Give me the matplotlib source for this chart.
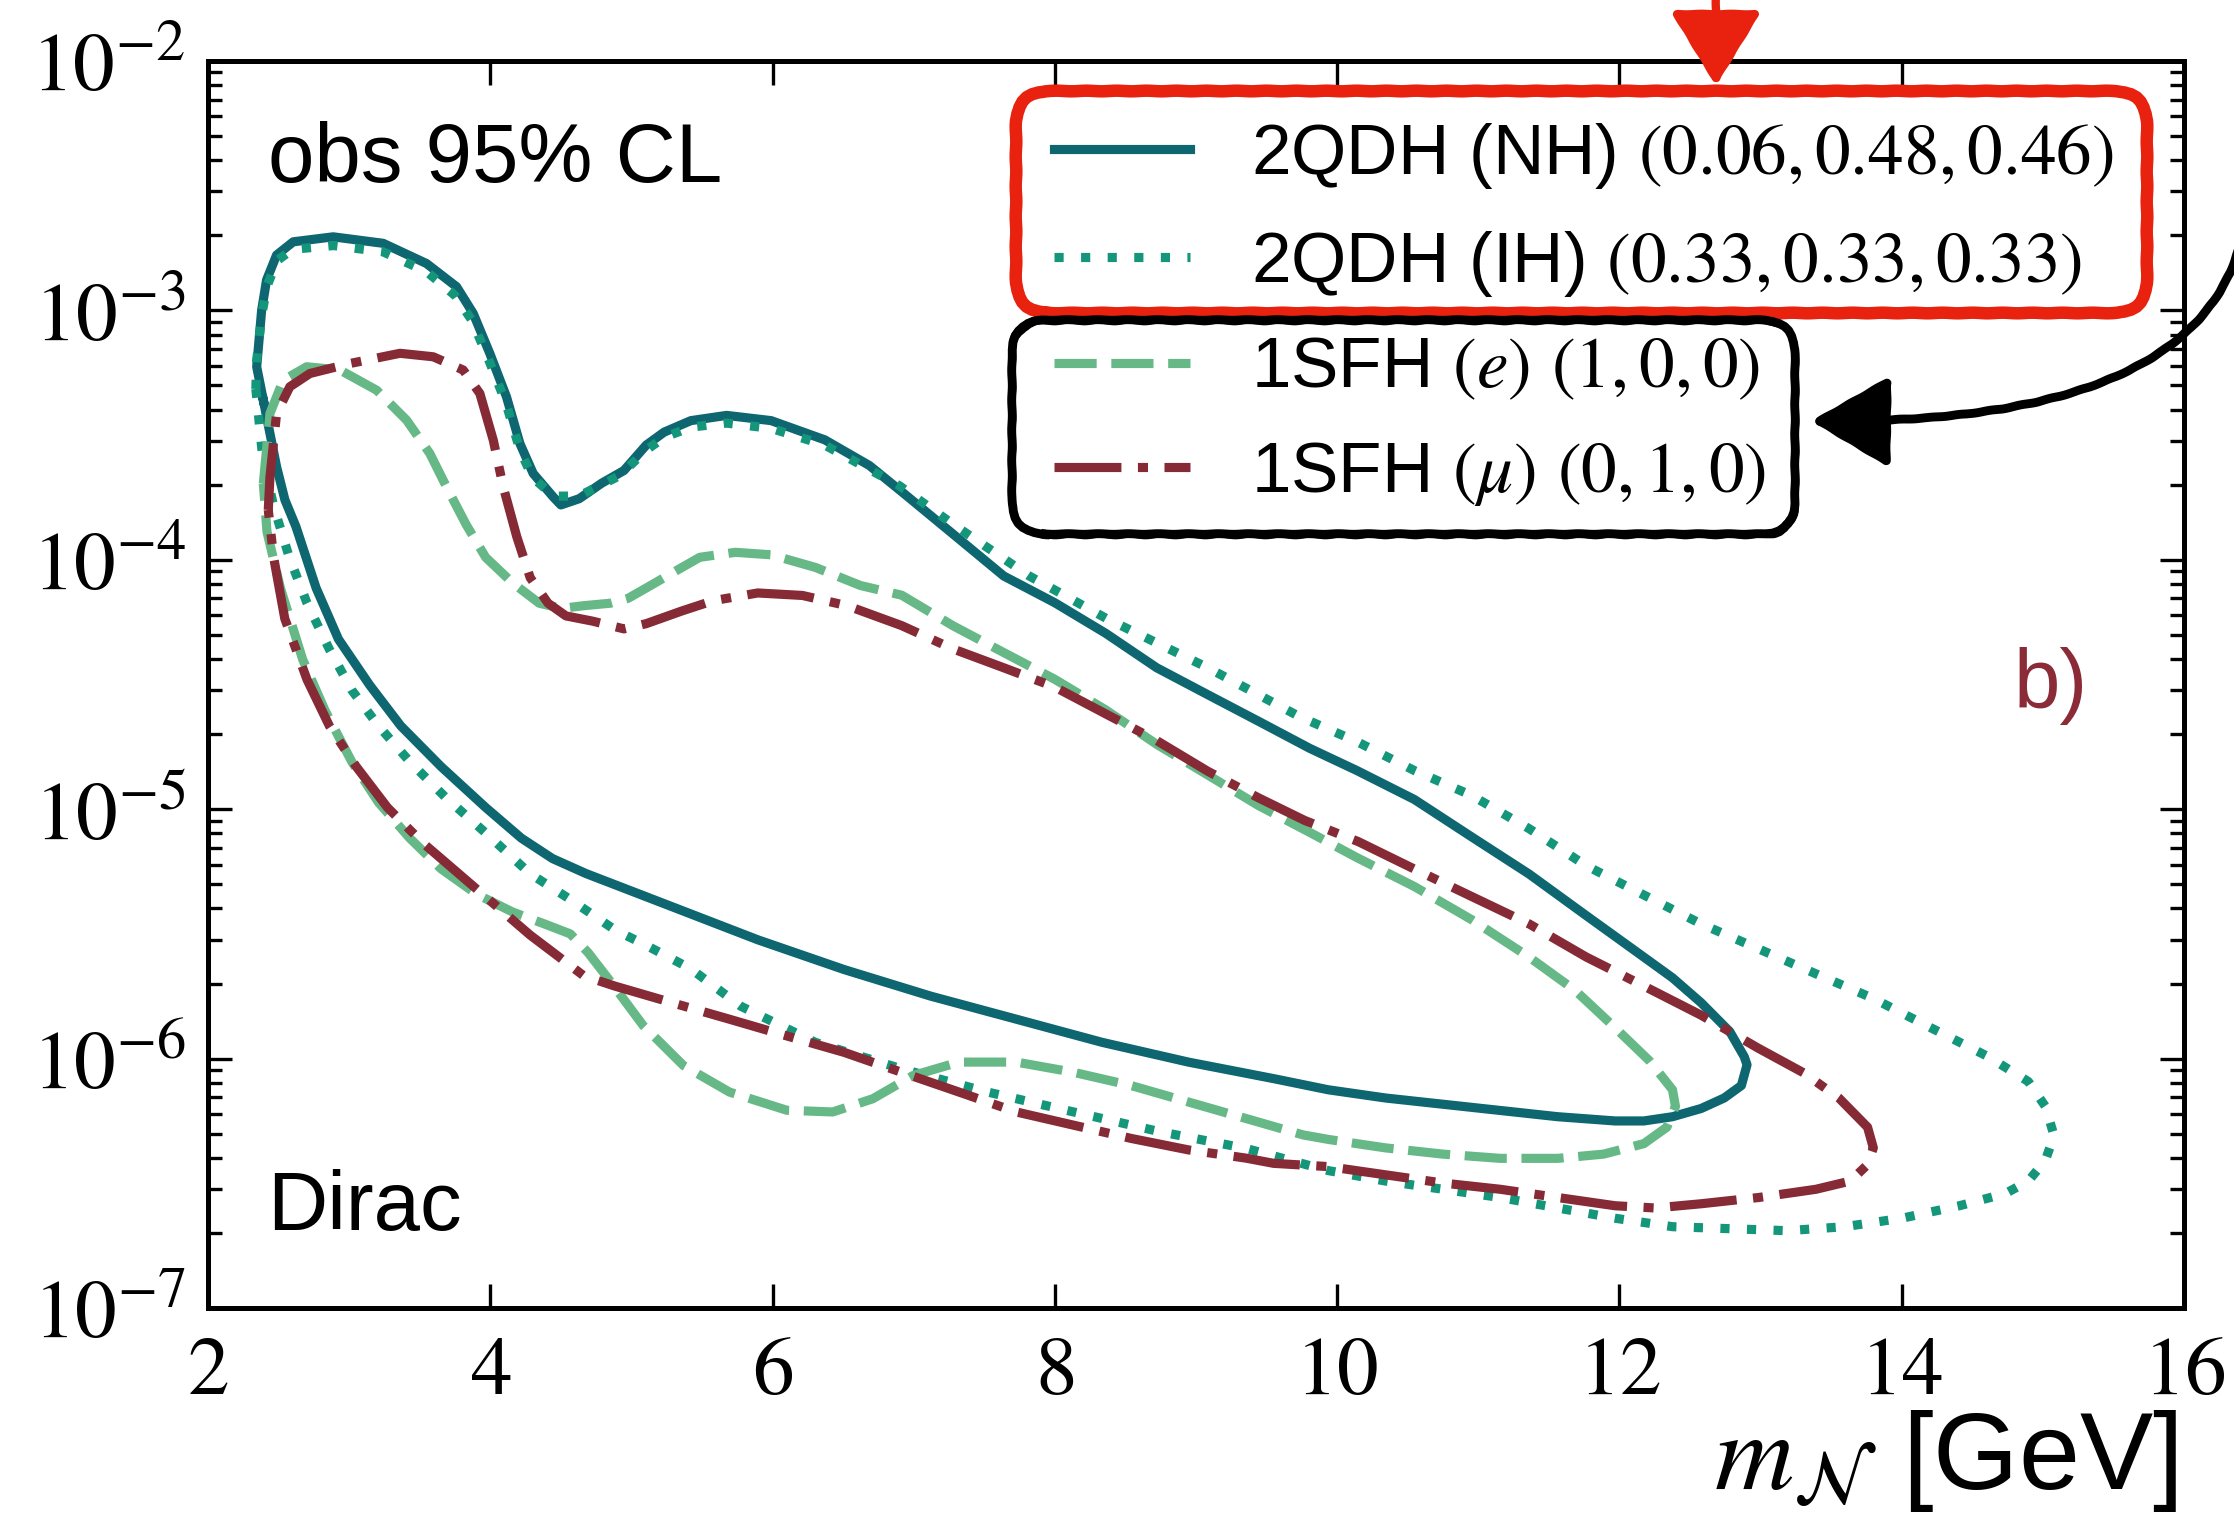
import numpy as np
import matplotlib
matplotlib.use('Agg')
import matplotlib.pyplot as plt
from matplotlib.patches import FancyBboxPatch, FancyArrowPatch
from matplotlib.path import Path
from matplotlib.ticker import FuncFormatter, LogLocator, NullFormatter

plt.rcParams['font.family'] = ['Liberation Sans', 'DejaVu Sans']
plt.rcParams['mathtext.fontset'] = 'stix'

# closed contours: x = m_N [GeV], y given as log10(|V|^2)
nh_x = [2.392, 2.345, 2.380, 2.415, 2.486, 2.604, 2.887, 3.241, 3.548, 3.761, 3.879, 3.997,
        4.115, 4.210, 4.304, 4.446, 4.500, 4.630, 4.789, 4.947, 5.105, 5.232, 5.421, 5.674, 5.990,
        6.370, 6.686, 6.915, 7.277, 7.638, 7.999, 8.361, 8.722, 9.084, 9.445, 9.806, 10.140,
        10.547, 10.953, 11.360, 11.766, 12.173, 12.376, 12.579, 12.782, 12.884, 12.904, 12.864,
        12.742, 12.579, 12.376, 12.173, 11.969, 11.563, 11.156, 10.750, 10.343, 9.937, 9.556,
        8.946, 8.336, 7.727, 7.117, 6.507, 5.897, 5.288, 4.678, 4.441, 4.220, 3.967, 3.651,
        3.366, 3.145, 2.924, 2.766, 2.623, 2.545, 2.486, 2.392]
nh_logy = [-3.360, -3.226, -3.000, -2.878, -2.778, -2.725, -2.705, -2.731, -2.812, -2.905, -3.012, -3.173,
           -3.347, -3.534, -3.654, -3.748, -3.780, -3.755, -3.693, -3.642, -3.540, -3.488, -3.442, -3.421, -3.442,
           -3.519, -3.622, -3.727, -3.896, -4.065, -4.172, -4.295, -4.433, -4.541, -4.648, -4.756, -4.845,
           -4.961, -5.111, -5.260, -5.427, -5.593, -5.676, -5.776, -5.892, -5.992, -6.025, -6.108,
           -6.158, -6.200, -6.233, -6.250, -6.250, -6.233, -6.208, -6.183, -6.158, -6.125, -6.081,
           -6.014, -5.935, -5.842, -5.749, -5.643, -5.524, -5.391, -5.258, -5.198, -5.116, -4.993, -4.829,
           -4.666, -4.502, -4.318, -4.113, -3.867, -3.760, -3.627, -3.360]

ih_x = [2.339, 2.345, 2.380, 2.420, 2.490, 2.600, 2.890, 3.240, 3.550, 3.750, 3.870, 3.990,
        4.110, 4.210, 4.300, 4.450, 4.630, 4.915, 5.105, 5.232, 5.421, 5.674, 5.990, 6.370,
        6.901, 7.277, 7.819, 8.361, 9.084, 9.734, 10.140, 10.547, 10.953, 11.360, 11.766, 12.173,
        12.579, 12.986, 13.392, 13.799, 14.205, 14.612, 14.897, 15.018, 15.079, 15.018, 14.897,
        14.734, 14.409, 14.002, 13.596, 13.189, 12.782, 12.376, 11.969, 11.563, 11.156, 10.750,
        10.343, 9.937, 9.353, 8.743, 8.133, 7.523, 6.914, 6.304, 5.775, 5.421, 5.105, 4.883,
        4.567, 4.283, 3.967, 3.682, 3.429, 3.208, 3.018, 2.860, 2.702, 2.576, 2.465, 2.386, 2.339]
ih_logy = [-3.315, -3.200, -3.020, -2.900, -2.800, -2.755, -2.740, -2.765, -2.845, -2.940, -3.040, -3.200,
           -3.370, -3.560, -3.670, -3.745, -3.744, -3.663, -3.560, -3.509, -3.468, -3.452, -3.473, -3.540,
           -3.704, -3.857, -4.065, -4.234, -4.433, -4.629, -4.729, -4.845, -4.945, -5.078, -5.227, -5.344,
           -5.460, -5.560, -5.660, -5.759, -5.876, -5.992, -6.092, -6.192, -6.308, -6.408, -6.491,
           -6.541, -6.590, -6.640, -6.674, -6.690, -6.682, -6.674, -6.640, -6.599, -6.557, -6.524,
           -6.491, -6.449, -6.360, -6.293, -6.214, -6.134, -6.041, -5.935, -5.790, -5.640, -5.546, -5.484,
           -5.362, -5.259, -5.095, -4.952, -4.809, -4.666, -4.522, -4.359, -4.174, -3.990, -3.785, -3.581, -3.315]

e_x = [2.392, 2.439, 2.533, 2.699, 2.935, 3.195, 3.407, 3.572, 3.690, 3.830, 3.967, 4.157,
       4.346, 4.504, 4.662, 4.852, 4.978, 5.105, 5.295, 5.484, 5.737, 5.990, 6.306, 6.622,
       6.915, 7.277, 7.638, 7.999, 8.361, 8.722, 9.084, 9.445, 9.806, 10.140, 10.547, 10.953,
       11.360, 11.685, 11.969, 12.213, 12.376, 12.397, 12.336, 12.173, 11.888, 11.563, 11.156,
       10.750, 10.343, 9.937, 9.759, 9.353, 8.946, 8.540, 8.133, 7.727, 7.320, 6.995, 6.710,
       6.426, 6.100, 5.694, 5.369, 5.084, 4.850, 4.693, 4.567, 4.402, 4.157, 3.904, 3.651,
       3.429, 3.208, 3.018, 2.829, 2.671, 2.513, 2.418, 2.392]
e_logy = [-3.694, -3.413, -3.280, -3.226, -3.239, -3.320, -3.440, -3.574, -3.708, -3.860, -3.990, -4.092,
          -4.174, -4.195, -4.184, -4.174, -4.154, -4.113, -4.051, -3.990, -3.970, -3.980, -4.031, -4.103,
          -4.142, -4.264, -4.372, -4.479, -4.602, -4.740, -4.863, -4.986, -5.093, -5.194, -5.310, -5.443,
          -5.593, -5.726, -5.876, -6.009, -6.125, -6.192, -6.275, -6.341, -6.383, -6.400, -6.400,
          -6.383, -6.358, -6.324, -6.306, -6.240, -6.174, -6.108, -6.055, -6.014, -6.014, -6.068, -6.161,
          -6.214, -6.207, -6.134, -6.028, -5.868, -5.690, -5.575, -5.500, -5.464, -5.412, -5.341, -5.239,
          -5.116, -4.973, -4.809, -4.604, -4.400, -4.113, -3.888, -3.694]

mu_x = [2.427, 2.439, 2.486, 2.580, 2.722, 3.005, 3.360, 3.596, 3.808, 3.926, 4.021, 4.092,
        4.188, 4.283, 4.409, 4.536, 4.725, 4.947, 5.105, 5.358, 5.579, 5.895, 6.212, 6.528,
        6.915, 7.277, 7.638, 7.999, 8.361, 8.722, 9.084, 9.445, 9.770, 10.150, 10.547, 10.953,
        11.360, 11.766, 12.173, 12.579, 12.986, 13.311, 13.555, 13.758, 13.799, 13.758, 13.636,
        13.392, 12.986, 12.579, 12.254, 11.969, 11.563, 11.156, 10.750, 10.343, 9.937, 9.550,
        9.353, 8.946, 8.540, 8.133, 7.727, 7.320, 6.914, 6.507, 6.100, 5.694, 5.288, 4.881,
        4.662, 4.472, 4.283, 4.030, 3.777, 3.524, 3.271, 3.050, 2.860, 2.702, 2.544, 2.465, 2.427]
mu_logy = [-3.800, -3.668, -3.413, -3.306, -3.253, -3.213, -3.172, -3.186, -3.239, -3.333, -3.520, -3.708,
           -3.908, -4.072, -4.174, -4.225, -4.246, -4.277, -4.256, -4.205, -4.164, -4.133, -4.143, -4.184,
           -4.264, -4.357, -4.433, -4.510, -4.618, -4.725, -4.848, -4.955, -5.045, -5.130, -5.240, -5.350,
           -5.460, -5.593, -5.709, -5.826, -5.959, -6.059, -6.158, -6.275, -6.358, -6.425, -6.491,
           -6.524, -6.557, -6.582, -6.599, -6.590, -6.557, -6.524, -6.499, -6.466, -6.433, -6.420,
           -6.399, -6.366, -6.320, -6.267, -6.214, -6.134, -6.055, -5.975, -5.909, -5.842, -5.776, -5.709,
           -5.668, -5.586, -5.505, -5.382, -5.259, -5.136, -4.993, -4.829, -4.666, -4.481, -4.236, -3.990, -3.800]

labels = [r'2QDH (NH) $(0.06,0.48,0.46)$',
          r'2QDH (IH) $(0.33,0.33,0.33)$',
          r'1SFH $(e)$ $(1,0,0)$',
          r'1SFH $(\mu)$ $(0,1,0)$']
colors = ['#0d6670', '#14967a', '#66b987', '#862a36']
styles = ['-', (0, (1, 1.9)), (0, (4.6, 1.6)), (0, (7.3, 1.8, 1.1, 1.8))]
xticks = [2, 4, 6, 8, 10, 12, 14, 16]

W, H, DPI = 2234, 1516, 200


def P(x, y):
    # picture pixel -> figure inches (y from the top)
    return (x / DPI, (H - y) / DPI)


fig = plt.figure(figsize=(W / DPI, H / DPI), dpi=DPI)
ax = fig.add_axes([208 / W, 1 - 1308 / H, (2184 - 208) / W, (1308 - 61) / H])
ax.set_yscale('log')

curves = [(nh_x, nh_logy), (ih_x, ih_logy), (e_x, e_logy), (mu_x, mu_logy)]
for (xs, ly), lab, c, ls in zip(curves, labels, colors, styles):
    ax.plot(xs, 10 ** np.array(ly), color=c, ls=ls, lw=3.3, label=lab)

ax.set_xlim(2, 16)
ax.set_ylim(1e-7, 1e-2)
ax.set_xticks(xticks)
ax.xaxis.set_major_formatter(FuncFormatter(lambda v, p: f'${v:.0f}$'))
ax.yaxis.set_major_locator(LogLocator(base=10, numticks=10))
ax.yaxis.set_minor_locator(LogLocator(base=10, subs=np.arange(2, 10), numticks=10))
ax.yaxis.set_major_formatter(FuncFormatter(lambda v, p: f'$10^{{{int(round(np.log10(v)))}}}$'))
ax.yaxis.set_minor_formatter(NullFormatter())
ax.tick_params(which='both', direction='in', top=True, right=True, width=1.2)
ax.tick_params(which='major', length=8.5, labelsize=30)
ax.tick_params(which='minor', length=5)
ax.tick_params(axis='y', pad=8)
ax.tick_params(axis='x', pad=9)
for s in ax.spines.values():
    s.set_linewidth(1.8)

ax.legend(loc='upper left', bbox_to_anchor=(0.428, 0.952), frameon=False, fontsize=25.6,
          handlelength=1.92, handletextpad=0.86, labelspacing=0.53, borderpad=0,
          borderaxespad=0)

ax.text(0.0304, 0.903, 'obs 95% CL', transform=ax.transAxes, fontsize=30, va='baseline')
ax.text(0.0300, 0.0626, 'Dirac', transform=ax.transAxes, fontsize=30, va='baseline')
ax.text(0.914, 0.481, 'b)', transform=ax.transAxes, fontsize=30, va='baseline', color='#8b2b38')
fig.text(2177 / W, 1 - 1489 / H, r'$m_{\mathcal{N}}$ [GeV]', ha='right', va='baseline', fontsize=39.5)

# hand-drawn highlight boxes and arrows on top
tr = fig.dpi_scale_trans
red = '#e8220e'
for dx, dy, lw, sk in [(0, 0, 4.5, 0.3), (3, -2, 1.3, 0.8), (-2, 3, 1.0, 0.8)]:
    b = FancyBboxPatch(P(1016 + dx, 313 + dy), (2147 - 1016) / DPI, (313 - 91) / DPI,
                       boxstyle='round,pad=0,rounding_size=0.17', fill=False, ec=red, lw=lw,
                       transform=tr, clip_on=False)
    b.set_sketch_params(sk, 30, 1)
    fig.add_artist(b)
for dx, dy, lw, sk in [(0, 0, 3.2, 0.3), (2, 3, 1.1, 0.8), (-2, -2, 0.9, 0.8)]:
    b = FancyBboxPatch(P(1012 + dx, 534 + dy), (1795 - 1012) / DPI, (534 - 320) / DPI,
                       boxstyle='round,pad=0,rounding_size=0.17', fill=False, ec='black', lw=lw,
                       transform=tr, clip_on=False)
    b.set_sketch_params(sk, 30, 1)
    fig.add_artist(b)

a = FancyArrowPatch(P(1716, -5), P(1716, 86), arrowstyle='-|>,head_length=1.15,head_width=0.7',
                    mutation_scale=20, color=red, lw=3, shrinkA=0, shrinkB=0, transform=tr)
a.set_sketch_params(0.3, 30, 1)
fig.add_artist(a)

arc = Path([P(2240, 245), P(2190, 425), P(1811, 421)], [Path.MOVETO, Path.CURVE3, Path.CURVE3])
a = FancyArrowPatch(path=arc, arrowstyle='-|>,head_length=1.2,head_width=0.7',
                    mutation_scale=20, color='black', lw=3.2, transform=tr)
a.set_sketch_params(0.3, 30, 1)
fig.add_artist(a)

fig.savefig('out.png', dpi=DPI)
